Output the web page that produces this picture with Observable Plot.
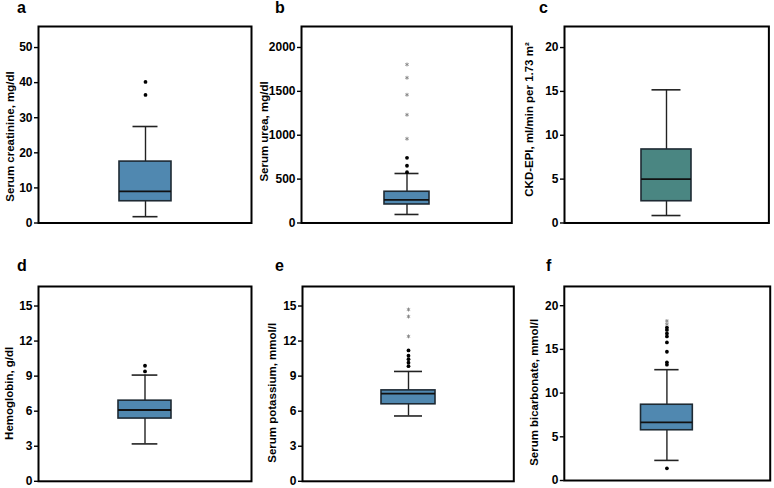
<!DOCTYPE html>
<html><head><meta charset="utf-8">
<script src="https://cdn.jsdelivr.net/npm/d3@7"></script>
<script src="https://cdn.jsdelivr.net/npm/@observablehq/plot@0.6"></script>
<style>
body{margin:0;background:#fff;}
#fig{position:relative;width:774px;height:488px;overflow:hidden;font-family:"Liberation Sans",Arial,sans-serif;}
.panel{position:absolute;}
.panel svg text{font-weight:bold;}
.letter{position:absolute;font-weight:bold;font-size:16px;line-height:1;color:#000;}
</style></head><body><div id="fig"></div>
<script>
// ---- data ----
const panelLetters = ["a", "b", "c", "d", "e", "f"];
const yLabels = [
  "Serum creatinine, mg/dl",
  "Serum urea, mg/dl",
  "CKD-EPI, ml/min per 1.73 m²",
  "Hemoglobin, g/dl",
  "Serum potassium, mmol/l",
  "Serum bicarbonate, mmol/l"
];
const yTicks = [
  [0, 10, 20, 30, 40, 50],
  [0, 500, 1000, 1500, 2000],
  [0, 5, 10, 15, 20],
  [0, 3, 6, 9, 12, 15],
  [0, 3, 6, 9, 12, 15],
  [0, 5, 10, 15, 20]
];
const yMax = [56, 2239, 22.4, 16.67, 16.67, 22.2];
const whiskerLow  = [1.8, 97, 0.85, 3.2, 5.59, 2.3];
const q1          = [6.2, 211, 2.48, 5.37, 6.59, 5.75];
const median      = [9, 264, 4.99, 6.1, 7.5, 6.66];
const q3          = [17.5, 356, 8.38, 6.9, 7.78, 8.67];
const whiskerHigh = [27.5, 564, 15.18, 9.09, 9.4, 12.68];
const outlierDots = [
  [40.2, 36.5],
  [743, 652, 579],
  [],
  [9.89, 9.4],
  [11.2, 10.75, 10.45, 10.15, 9.85],
  [17.5, 17.23, 16.82, 16.48, 15.8, 14.73, 13.52, 13.25, 1.4]
];
const extremeStars = [
  [],
  [1806, 1655, 1461, 1233, 960],
  [],
  [],
  [14.7, 14.1, 12.4],
  [18.25, 17.88]
];

// ---- layout / style ----
const frames = [ // left, top, right, bottom of plotting frame
  [38, 26, 251, 222.5],
  [300.7, 26, 511, 222.5],
  [564.3, 26, 768.7, 222.5],
  [38, 286.2, 251, 481],
  [301.7, 286.2, 513, 481],
  [564.3, 286.2, 771, 481]
];
const boxW = [52, 45, 50, 53, 54, 52.6];
const capW = [25, 24, 29, 25.7, 28, 25];
const labelPos = [[10, 136], [264, 131], [529.5, 119], [9, 393], [272, 392.5], [534, 392.5]];
const letterPos = [[17, 13.5], [275, 13.5], [539, 13.5], [17, 271.7], [275, 271.7], [546, 271.7]];
const fills = ["#5088b0", "#5088b0", "#4a8682", "#5088b0", "#5088b0", "#5088b0"];
const ML = 50, MT = 10, MR = 4, MB = 12;

const fig = document.getElementById("fig");

panelLetters.forEach((name, i) => {
  const [L, T, R, B] = frames[i];
  const fw = R - L, fh = B - T;
  const p = (fw - boxW[i]) / (fw + boxW[i]);
  const row = {name, lo: whiskerLow[i], q1: q1[i], med: median[i], q3: q3[i], hi: whiskerHigh[i]};
  const dots = outlierDots[i].map(v => ({name, v}));
  const stars = extremeStars[i].map(v => ({name, v}));
  const ins = (boxW[i] - capW[i]) / 2;
  const [lx, ly] = labelPos[i];
  const chart = Plot.plot({
    width: fw + ML + MR,
    height: fh + MT + MB,
    marginLeft: ML, marginTop: MT, marginRight: MR, marginBottom: MB,
    style: {fontFamily: '"Liberation Sans", Arial, sans-serif', fontWeight: "bold", fontSize: "12px", color: "#000", background: "transparent", overflow: "visible"},
    x: {type: "band", domain: [name], padding: p, axis: null},
    y: {domain: [0, yMax[i]], axis: null},
    marks: [
      Plot.axisY({ticks: yTicks[i], tickFormat: d => String(d), tickSize: 4, tickPadding: 2, label: null, fontWeight: "bold", fontSize: 12, strokeWidth: 1.4, fill: "#000", stroke: "#000"}),
      Plot.ruleX([row], {x: "name", y1: "q3", y2: "hi", stroke: "#222", strokeWidth: 1.4}),
      Plot.ruleX([row], {x: "name", y1: "lo", y2: "q1", stroke: "#222", strokeWidth: 1.4}),
      Plot.tickY([row], {x: "name", y: "hi", insetLeft: ins, insetRight: ins, stroke: "#222", strokeWidth: 1.6}),
      Plot.tickY([row], {x: "name", y: "lo", insetLeft: ins, insetRight: ins, stroke: "#222", strokeWidth: 1.6}),
      Plot.barY([row], {x: "name", y1: "q1", y2: "q3", fill: fills[i], stroke: "#1e2a33", strokeWidth: 1.6}),
      Plot.tickY([row], {x: "name", y: "med", stroke: "#111", strokeWidth: 1.8}),
      Plot.dot(dots, {x: "name", y: "v", r: 1.9, fill: "#000", stroke: "none"}),
      Plot.dot(stars, {x: "name", y: "v", r: 1.8, symbol: "asterisk", stroke: "#8a8a8a", strokeWidth: 1}),
      Plot.frame({stroke: "#000", strokeWidth: 2}),
      Plot.text([yLabels[i]], {
        text: d => d, frameAnchor: "left", rotate: -90,
        dx: lx - L, dy: ly - (T + B) / 2,
        textAnchor: "middle", lineAnchor: "middle",
        fontWeight: "bold", fontSize: 11.5, fill: "#000"
      })
    ]
  });
  const div = document.createElement("div");
  div.className = "panel";
  div.style.left = (L - ML) + "px";
  div.style.top = (T - MT) + "px";
  div.appendChild(chart);
  fig.appendChild(div);

  const lt = document.createElement("div");
  lt.className = "letter";
  lt.textContent = name;
  lt.style.left = letterPos[i][0] + "px";
  lt.style.top = (letterPos[i][1] - 13.6) + "px";
  fig.appendChild(lt);
});
</script></body></html>
